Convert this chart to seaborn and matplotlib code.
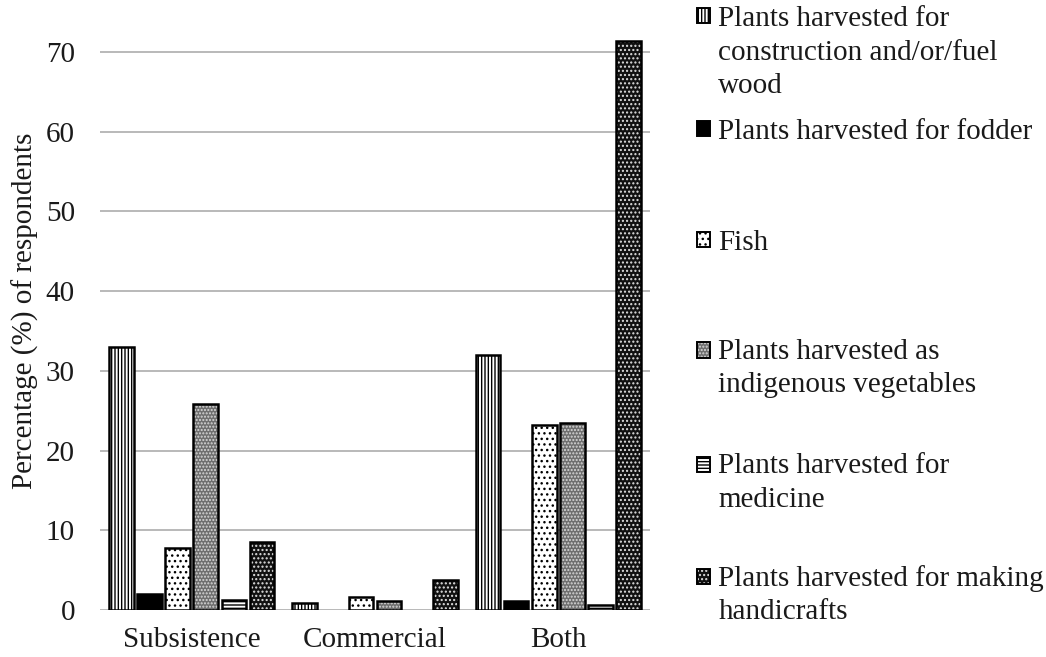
import numpy as np
import pandas as pd
import matplotlib
matplotlib.use("Agg")
import matplotlib.pyplot as plt
import seaborn as sns
from matplotlib.patches import Patch, Rectangle
from matplotlib.legend_handler import HandlerPatch

# ---- data -------------------------------------------------------------
uses = ["Subsistence", "Commercial", "Both"]
resources = [
    "Plants harvested for\nconstruction and/or/fuel\nwood",
    "Plants harvested for fodder",
    "Fish",
    "Plants harvested as\nindigenous vegetables",
    "Plants harvested for\nmedicine",
    "Plants harvested for making\nhandicrafts",
]
construction = [33.0, 0.9, 32.0]
fodder = [2.0, 0.0, 1.1]
fish = [7.8, 1.6, 23.2]
vegetables = [25.8, 1.1, 23.4]
medicine = [1.2, 0.0, 0.6]
handicrafts = [8.5, 3.7, 71.4]
yticks = [0, 10, 20, 30, 40, 50, 60, 70]

series = [construction, fodder, fish, vegetables, medicine, handicrafts]
df = pd.DataFrame(
    [(u, r, v) for r, vals in zip(resources, series) for u, v in zip(uses, vals)],
    columns=["use", "resource", "pct"],
)

# ---- bar styles: (face, hatch, hatch colour) ----------------------------
styles = [
    ("white", "|||||", "black"),
    ("black", "", "black"),
    ("white", "...", "black"),
    ("#6e6e6e", ".....", "#d8d8d8"),
    ("white", "-----", "black"),
    ("#111111", "....", "#e0e0e0"),
]

sns.set_theme(style="white")
plt.rcParams["font.family"] = ["Liberation Serif", "DejaVu Serif"]
plt.rcParams["hatch.linewidth"] = 1.0
FS = 21
TXT = "#1a1a1a"

W, H = 1046, 657
fig = plt.figure(figsize=(W / 100, H / 100), dpi=100)
ax = fig.add_axes([100 / W, 1 - 610 / H, 550 / W, (610 - 12) / H])


def style_patch(p, face, hatch, hcol, lw=1.8):
    p.set_facecolor(face)
    p.set_edgecolor("black")
    p.set_linewidth(lw)
    p.set_hatch(hatch if hatch else None)
    if hasattr(p, "set_hatchcolor"):
        p.set_hatchcolor(hcol)
    else:
        p._hatch_color = matplotlib.colors.to_rgba(hcol)


sns.barplot(
    data=df, x="use", y="pct", hue="resource",
    order=uses, hue_order=resources,
    palette=[s[0] for s in styles], saturation=1,
    width=0.922, gap=0.12, legend=False, ax=ax, errorbar=None,
)

for cont, (face, hatch, hcol) in zip(ax.containers, styles):
    for bar in cont:
        style_patch(bar, face, hatch, hcol)
        if bar.get_height() == 0:
            bar.set_visible(False)

ax.set_xlim(-0.5, 2.5)
ax.set_ylim(0, 75)
ax.set_yticks(yticks)
ax.yaxis.grid(True, color="#a6a6a6", linewidth=1.1)
ax.set_axisbelow(True)
for s in ax.spines.values():
    s.set_visible(False)
ax.tick_params(axis="y", length=0, pad=18, labelsize=FS, labelcolor=TXT)
ax.tick_params(axis="x", length=0, pad=12, labelsize=FS, labelcolor=TXT)
ax.set_xlabel("")
ax.set_ylabel("Percentage (%) of respondents", fontsize=FS, color=TXT)
ax.yaxis.set_label_coords(-0.111, 0.5)


# ---- legend: one block per resource, swatch on the first text line ----
class TopSwatch(HandlerPatch):
    def __init__(self, nlines, **kw):
        super().__init__(**kw)
        self.nlines = nlines

    def create_artists(self, legend, orig_handle, xdescent, ydescent,
                       width, height, fontsize, trans):
        shift = (self.nlines - 1) / 2 * 1.25 * fontsize
        p = Rectangle((-xdescent, -ydescent + shift), width, height)
        self.update_prop(p, orig_handle, legend)
        p.set_transform(trans)
        return [p]


legend_centers = [52.5, 132, 243, 368.5, 483, 595]
for label, (face, hatch, hcol), yc in zip(resources, styles, legend_centers):
    h = Patch(facecolor=face, edgecolor="black", linewidth=1.4)
    if hatch:
        h.set_hatch(hatch)
    if hasattr(h, "set_hatchcolor"):
        h.set_hatchcolor(hcol)
    else:
        h._hatch_color = matplotlib.colors.to_rgba(hcol)
    n = label.count("\n") + 1
    leg = fig.legend(
        handles=[h], labels=[label], loc="center left",
        bbox_to_anchor=(697 / W, 1 - yc / H), frameon=False,
        borderpad=0, borderaxespad=0, fontsize=FS,
        handlelength=0.45, handleheight=0.45, handletextpad=0.28,
        handler_map={h: TopSwatch(n)},
    )
    for t in leg.get_texts():
        t.set_linespacing(1.38)
        t.set_color(TXT)

fig.savefig("out.png", dpi=100)
